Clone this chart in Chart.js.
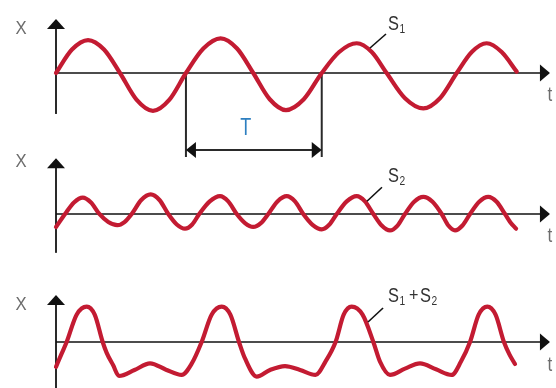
<!DOCTYPE html>
<html><head><meta charset="utf-8">
<script src="https://cdn.jsdelivr.net/npm/chart.js@4/dist/chart.umd.min.js"></script>
<style>html,body{margin:0;padding:0;background:#fff;}#wrap{position:relative;width:556px;height:388px;}</style>
</head><body><div id="wrap"><canvas id="c" width="556" height="388"></canvas></div>
<script>
// time in units of the S1 period T
const tS1 = [0,0.120,0.241,0.361,0.481,0.605,0.729,0.853,0.977,1.108,1.238,1.361,1.483,1.607,1.729,1.863,1.998,2.129,2.261,2.374,2.486,2.624,2.762,2.887,3.013,3.126,3.238,3.351,3.464];
const vS1 = [0,0.67,0.94,0.67,0,-0.76,-1.08,-0.76,0,0.70,0.99,0.70,0,-0.75,-1.06,-0.75,0,0.60,0.85,0.60,0,-0.72,-1.01,-0.72,0,0.60,0.85,0.60,0.04];

const tS2 = [0,0.068,0.135,0.201,0.263,0.326,0.393,0.461,0.515,0.569,0.641,0.712,0.778,0.844,0.908,0.970,1.024,1.077,1.156,1.233,1.295,1.359,1.421,1.483,1.540,1.596,1.665,1.735,1.797,1.859,1.929,1.998,2.054,2.111,2.186,2.261,2.323,2.386,2.449,2.511,2.568,2.624,2.693,2.762,2.831,2.900,2.950,3.000,3.056,3.113,3.182,3.250,3.313,3.376,3.417,3.459];
const vS2 = [-0.37,0,0.33,0.47,0.33,0,-0.23,-0.32,-0.23,0,0.40,0.56,0.40,0,-0.30,-0.42,-0.30,0,0.36,0.51,0.36,0,-0.26,-0.37,-0.26,0,0.36,0.51,0.36,0,-0.31,-0.44,-0.31,0,0.36,0.51,0.36,0,-0.33,-0.47,-0.33,0,0.35,0.49,0.35,0,-0.33,-0.47,-0.33,0,0.35,0.49,0.35,0,-0.24,-0.42];

const tSum = [0,0.039,0.080,0.155,0.231,0.291,0.351,0.381,0.429,0.474,0.590,0.707,0.827,0.945,1.020,1.095,1.170,1.246,1.311,1.376,1.421,1.509,1.609,1.722,1.835,1.951,2.026,2.102,2.163,2.223,2.305,2.386,2.436,2.511,2.624,2.737,2.857,2.975,3.045,3.113,3.178,3.243,3.305,3.368,3.410,3.451];
const vSum = [-0.71,-0.36,0,0.78,1.01,0.78,0,-0.31,-0.66,-0.97,-0.80,-0.61,-0.79,-0.94,-0.62,0,0.78,1.01,0.78,0,-0.47,-0.99,-0.80,-0.69,-0.80,-0.94,-0.56,0,0.78,1.01,0.78,0,-0.56,-0.94,-0.76,-0.61,-0.78,-0.94,-0.56,0,0.78,1.01,0.78,0,-0.36,-0.63];

const axisNameY = 'X';
const axisNameX = 't';
const periodLabel = 'T';
const periodFrom = 0.977, periodTo = 1.998;   // zero crossings of S1 bounding T

const RED = '#c31b32';
const FONT = '"Liberation Sans",Arial,sans-serif';

function pts(t, v){ return t.map((x,i)=>({x:x, y:v[i]})); }

const panels = [
  {id:'y1', top:1.543, bottom:-1.17, lblY:1.27, tY:-0.63, sub:['1'], sy:1.23, lead:[[2.481,1.114],[2.361,0.714]]},
  {id:'y2', top:1.59,  bottom:-1.11, lblY:1.48, tY:-0.64, sub:['2'], sy:0.906, lead:[[2.451,0.763],[2.338,0.363]]},
  {id:'y3', top:1.343, bottom:-1.314,lblY:1.06, tY:-0.66, sub:['1','2'], sy:1.143, lead:[[2.459,0.971],[2.346,0.571]]}
];

function tri(ctx, a, b, c){ ctx.beginPath(); ctx.moveTo(a[0],a[1]); ctx.lineTo(b[0],b[1]); ctx.lineTo(c[0],c[1]); ctx.closePath(); ctx.fill(); }
// condensed text: draw with horizontal squeeze, returns drawn width
function txt(ctx, s, x, y, size, sx, align){
  ctx.save();
  ctx.font = size + 'px ' + FONT;
  const w = ctx.measureText(s).width * sx;
  let left = x;
  if(align === 'center') left = x - w/2;
  ctx.translate(left, y); ctx.scale(sx, 1);
  ctx.textAlign = 'left';
  ctx.fillText(s, 0, 0);
  ctx.restore();
  return w;
}

const decor = {
  id:'decor',
  beforeDatasetsDraw(chart){
    const ctx = chart.ctx, xs = chart.scales.x;
    const x0 = xs.getPixelForValue(0), xEnd = xs.getPixelForValue(3.714);
    ctx.save();
    ctx.fillStyle = '#111';
    panels.forEach(p=>{
      const ys = chart.scales[p.id];
      const y0 = ys.getPixelForValue(0), yTop = ys.getPixelForValue(p.top), yBot = ys.getPixelForValue(p.bottom);
      ctx.strokeStyle = '#2a2a2a'; ctx.lineWidth = 2;
      ctx.beginPath(); ctx.moveTo(x0, yTop+8); ctx.lineTo(x0, yBot); ctx.stroke();
      tri(ctx, [x0, yTop], [x0-9, yTop+10], [x0+9, yTop+10]);
      ctx.strokeStyle = '#111'; ctx.lineWidth = 1.6;
      ctx.beginPath(); ctx.moveTo(x0, y0); ctx.lineTo(xEnd-8, y0); ctx.stroke();
      tri(ctx, [xEnd, y0], [xEnd-10, y0-8.5], [xEnd-10, y0+8.5]);
    });
    const ys = chart.scales.y1;
    const a = xs.getPixelForValue(periodFrom), b = xs.getPixelForValue(periodTo);
    const yA = ys.getPixelForValue(0), yB = ys.getPixelForValue(-2.2);
    ctx.strokeStyle = '#2a2a2a'; ctx.lineWidth = 2;
    ctx.beginPath();
    ctx.moveTo(a, yA); ctx.lineTo(a, yB+7);
    ctx.moveTo(b, yA); ctx.lineTo(b, yB+7);
    ctx.moveTo(a+8, yB); ctx.lineTo(b-8, yB);
    ctx.stroke();
    tri(ctx, [a, yB], [a+10, yB-8], [a+10, yB+8]);
    tri(ctx, [b, yB], [b-10, yB-8], [b-10, yB+8]);
    ctx.restore();
  },
  afterDatasetsDraw(chart){
    const ctx = chart.ctx, xs = chart.scales.x;
    ctx.save();
    panels.forEach(p=>{
      const ys = chart.scales[p.id];
      ctx.fillStyle = '#6d6d6d';
      ctx.textBaseline = 'middle';
      txt(ctx, axisNameY, xs.getPixelForValue(-0.263), ys.getPixelForValue(p.lblY), 19, 0.88, 'center');
      txt(ctx, axisNameX, xs.getPixelForValue(3.714), ys.getPixelForValue(p.tY), 20, 0.85, 'center');
      ctx.textBaseline = 'alphabetic';
      ctx.fillStyle = '#333';
      let x = xs.getPixelForValue(2.496);
      const yb = ys.getPixelForValue(p.sy);
      p.sub.forEach((s,i)=>{
        if(i>0){ x += 4; x += txt(ctx, '+', x, yb-1, 19, 0.85) + 1.5; }
        x += txt(ctx, 'S', x, yb, 20, 0.82) + 0.5;
        x += txt(ctx, s, x, yb+3, 12, 0.85);
      });
      ctx.strokeStyle = '#111'; ctx.lineWidth = 1.6;
      ctx.beginPath();
      ctx.moveTo(xs.getPixelForValue(p.lead[0][0]), ys.getPixelForValue(p.lead[0][1]));
      ctx.lineTo(xs.getPixelForValue(p.lead[1][0]), ys.getPixelForValue(p.lead[1][1]));
      ctx.stroke();
    });
    const ys = chart.scales.y1;
    ctx.fillStyle = '#2e7fc0';
    ctx.textBaseline = 'middle';
    txt(ctx, periodLabel, xs.getPixelForValue((periodFrom+periodTo)/2 - 0.06), ys.getPixelForValue(-1.57), 24, 0.75, 'center');
    ctx.restore();
  }
};

const ds = (data, yAxisID) => ({data, yAxisID, xAxisID:'x', borderColor:RED, borderWidth:4.2, pointRadius:0,
  cubicInterpolationMode:'monotone', fill:false, clip:false, borderCapStyle:'round', borderJoinStyle:'round'});

new Chart(document.getElementById('c'), {
  type:'line',
  data:{datasets:[ds(pts(tS1,vS1),'y1'), ds(pts(tS2,vS2),'y2'), ds(pts(tSum,vSum),'y3')]},
  options:{
    responsive:false, animation:false, devicePixelRatio:1,
    layout:{padding:0},
    plugins:{legend:{display:false}, tooltip:{enabled:false}},
    events:[],
    scales:{
      x:{type:'linear', display:false, min:-0.4211, max:3.7594},
      y1:{type:'linear', display:false, position:'left', stack:'p', stackWeight:140, weight:3, min:-1.914, max:2.086},
      y2:{type:'linear', display:false, position:'left', stack:'p', stackWeight:140, weight:2, min:-1.886, max:2.114},
      y3:{type:'linear', display:false, position:'left', stack:'p', stackWeight:108, weight:1, min:-1.314, max:1.771}
    }
  },
  plugins:[decor]
});
</script></body></html>
